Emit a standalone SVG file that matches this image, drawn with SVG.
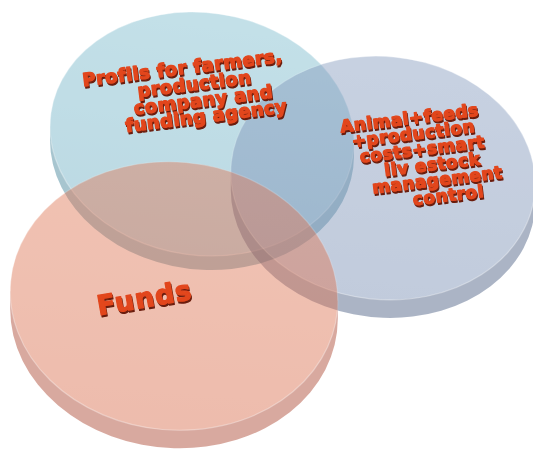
<svg xmlns="http://www.w3.org/2000/svg" width="533" height="451" viewBox="0 0 533 451">
  <defs>
    <linearGradient id="faceBlue" x1="0" y1="0" x2="0" y2="1">
      <stop offset="0" stop-color="#7cbcce"/>
      <stop offset="1" stop-color="#6aabc1"/>
    </linearGradient>
    <linearGradient id="facePurple" x1="0" y1="0" x2="0" y2="1">
      <stop offset="0" stop-color="#859bbe"/>
      <stop offset="1" stop-color="#788eb3"/>
    </linearGradient>
    <linearGradient id="facePink" x1="0" y1="0" x2="0" y2="1">
      <stop offset="0" stop-color="#e07a58"/>
      <stop offset="1" stop-color="#d96c4b"/>
    </linearGradient>
    <filter id="extrude" x="-10%" y="-20%" width="130%" height="160%">
      <feOffset in="SourceAlpha" dx="1.3" dy="2" result="off"/>
      <feFlood flood-color="#6a1c0c"/>
      <feComposite in2="off" operator="in" result="shadow"/>
      <feMerge>
        <feMergeNode in="shadow"/>
        <feMergeNode in="SourceGraphic"/>
      </feMerge>
    </filter>
  </defs>
  <style>
    .disc { opacity: 0.45; }
    .rim { stroke: #ffffff; stroke-opacity: 0.35; stroke-width: 1.2; }
    .lbl { font-family: "DejaVu Sans", "Liberation Sans", sans-serif; font-weight: bold; text-anchor: middle; fill: #e2461c; stroke: #e2461c; stroke-width: 1.3; stroke-linejoin: round; filter: url(#extrude); }
    .t1 { font-size: 18px; letter-spacing: 0.4px; }
    .t2 { font-size: 17px; letter-spacing: 0.5px; }
    .t3 { font-size: 27px; letter-spacing: 1px; }
  </style>

  <!-- discs: blue (profits), purple (inputs), pink (funds); each is a side band plus a top face -->
  <g id="profits" class="disc" transform="translate(202,134)">
    <path fill="#3e8097" d="M -152,-7.75 L -152,6.25 A 152.5 121.3 8 0 0 152,21.75 L 152,7.75 Z"/>
    <ellipse class="rim" fill="url(#faceBlue)" rx="152.5" ry="121.3" transform="rotate(8)"/>
  </g>

  <g id="inputs" class="disc" transform="translate(383,178)">
    <path fill="#475b80" d="M -152.2,-5.8 L -152.2,12.2 A 152.5 121.5 6 0 0 152.2,23.8 L 152.2,5.8 Z"/>
    <ellipse class="rim" fill="url(#facePurple)" rx="152.5" ry="121.5" transform="rotate(6)"/>
  </g>

  <g id="funds" class="disc" transform="translate(174,296)">
    <path fill="#ab422c" d="M -163.8,-4.74 L -163.8,13.26 A 164 134 5 0 0 163.8,22.74 L 163.8,4.74 Z"/>
    <ellipse class="rim" fill="url(#facePink)" rx="164" ry="134" transform="rotate(5)"/>
  </g>

  <!-- labels drawn above all discs -->
  <g id="profits-label" class="lbl t1">
    <text x="183" y="74" transform="rotate(-7 183 74)">Profils for farmers,</text>
    <text x="195" y="90" transform="rotate(-7 195 90)">production</text>
    <text x="204" y="106" transform="rotate(-7 204 106)">company and</text>
    <text x="207" y="122" transform="rotate(-7 207 122)">funding agency</text>
  </g>

  <g id="inputs-label" class="lbl t2">
    <text x="410" y="124" transform="rotate(-7 410 124)">Animal+feeds</text>
    <text x="414" y="139.4" transform="rotate(-7 414 139.4)">+production</text>
    <text x="423" y="154.8" transform="rotate(-7 423 154.8)">costs+smart</text>
    <text x="433" y="170.2" transform="rotate(-7 433 170.2)">liv estock</text>
    <text x="438" y="185.6" transform="rotate(-7 438 185.6)">management</text>
    <text x="449" y="201" transform="rotate(-7 449 201)">control</text>
  </g>

  <g id="funds-label" class="lbl t3">
    <text x="146" y="307" transform="rotate(-10 146 307)">Funds</text>
  </g>
</svg>
